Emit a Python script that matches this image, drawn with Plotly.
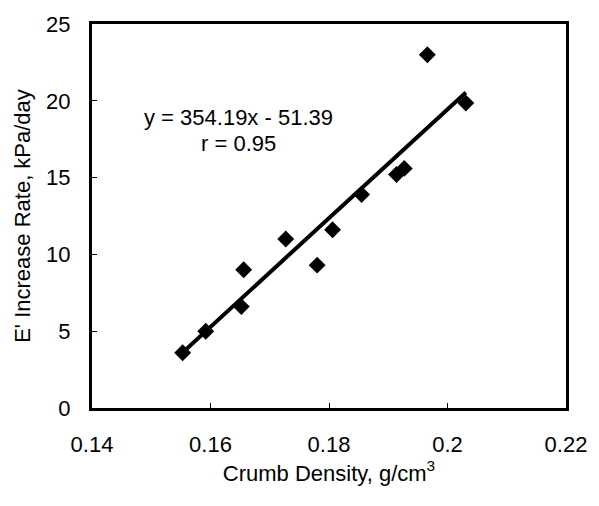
import plotly.graph_objects as go

density = [0.1553, 0.1592, 0.1652, 0.1656, 0.1727, 0.1780, 0.1806, 0.1855, 0.1914, 0.1927, 0.1966, 0.2031]
rate = [3.6, 5.0, 6.6, 9.0, 11.0, 9.3, 11.6, 13.9, 15.2, 15.6, 23.0, 19.85]

slope = 354.19
intercept = -51.39
fit_x = [min(density), max(density)]
fit_y = [slope * v + intercept for v in fit_x]

x_ticks = [0.14, 0.16, 0.18, 0.2, 0.22]
x_tick_labels = ["0.14", "0.16", "0.18", "0.2", "0.22"]
y_ticks = [0, 5, 10, 15, 20, 25]

equation_text = "y = 354.19x - 51.39"
r_text = "r = 0.95"

font = "Liberation Sans, Arial, sans-serif"
fs = 22

fig = go.Figure()
fig.add_trace(go.Scatter(x=fit_x, y=fit_y, mode="lines",
                         line=dict(color="black", width=4), showlegend=False))
fig.add_trace(go.Scatter(x=density, y=rate, mode="markers",
                         marker=dict(symbol="diamond", size=13, color="black"),
                         showlegend=False))

fig.add_annotation(x=0.1647, y=18.9, xref="x", yref="y", text=equation_text,
                   showarrow=False, borderpad=0,
                   font=dict(family=font, size=fs, color="black"))
fig.add_annotation(x=0.1647, y=17.2, xref="x", yref="y", text=r_text,
                   showarrow=False, borderpad=0,
                   font=dict(family=font, size=fs, color="black"))

fig.update_xaxes(range=[0.14, 0.22], tickvals=x_ticks, ticktext=x_tick_labels,
                 showline=True, linecolor="black", linewidth=3, mirror=True,
                 ticks="inside", ticklen=5, tickwidth=1, tickcolor="black",
                 showgrid=False, zeroline=False, ticklabelstandoff=15,
                 tickfont=dict(family=font, size=fs, color="black"),
                 title=dict(text="Crumb Density, g/cm<sup>3</sup>", standoff=6,
                            font=dict(family=font, size=fs, color="black")))
fig.update_yaxes(range=[0, 25], tickvals=y_ticks,
                 showline=True, linecolor="black", linewidth=3, mirror=True,
                 ticks="inside", ticklen=5, tickwidth=1, tickcolor="black",
                 showgrid=False, zeroline=False, ticklabelstandoff=14,
                 tickfont=dict(family=font, size=fs, color="black"),
                 title=dict(text="E' Increase Rate, kPa/day", standoff=10,
                            font=dict(family=font, size=fs, color="black")))

fig.update_layout(width=599, height=506, margin=dict(l=92, r=27, t=21, b=98),
                  plot_bgcolor="white", paper_bgcolor="white",
                  font=dict(family=font, size=fs, color="black"))

fig.write_html("out.html")
